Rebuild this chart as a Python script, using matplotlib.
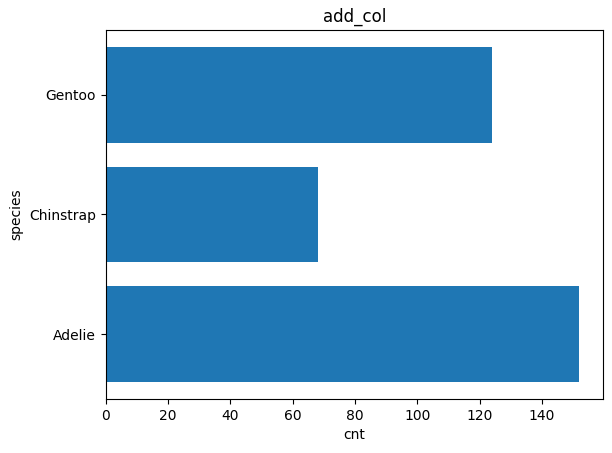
import matplotlib
matplotlib.use("Agg")
import matplotlib.pyplot as plt

species = ["Adelie", "Chinstrap", "Gentoo"]
cnt = [152, 68, 124]

fig, ax = plt.subplots(figsize=(6.12, 4.53), dpi=100)
ax.barh(species, cnt)
ax.set_title("add_col")
ax.set_xlabel("cnt")
ax.set_ylabel("species")
fig.subplots_adjust(left=0.173, right=0.985, top=0.934, bottom=0.119)
fig.savefig("out.png")
